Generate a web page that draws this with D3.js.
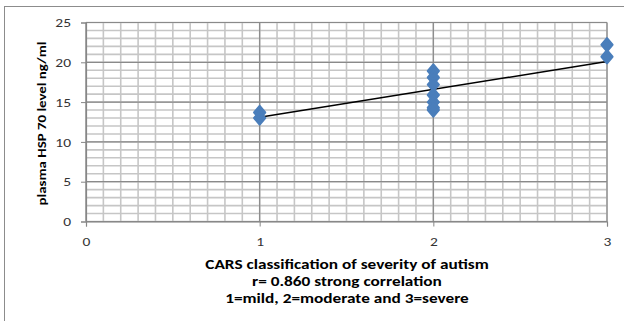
<!DOCTYPE html>
<html>
<head>
<meta charset="utf-8">
<script src="https://cdn.jsdelivr.net/npm/d3@7"></script>
<style>
  body { margin: 0; background: #fff; }
  svg { display: block; }
</style>
</head>
<body>
<svg id="chart" width="624" height="321"></svg>
<script>
// severity groups (x) and plasma HSP 70 values (y)
const severity = [1, 1, 2, 2, 2, 2, 2, 2, 2, 3, 3];
const hsp70 = [13.0, 13.7, 18.9, 18.1, 17.2, 15.9, 15.0, 14.3, 14.0, 22.2, 20.7];
// linear trend line
const trendX = [1, 3];
const trendY = [13.1, 20.1];
const xTicks = [0, 1, 2, 3];
const yTicks = [0, 5, 10, 15, 20, 25];
const xTitleLines = [
  'CARS classification of severity of autism',
  'r= 0.860  strong correlation',
  '1=mild, 2=moderate and 3=severe'
];
const yTitle = 'plasma HSP 70 level ng/ml';

const svg = d3.select('#chart');
const font = 'Carlito, "Open Sans", "Noto Sans", sans-serif';
// the source text renders wider than Carlito, stretch along baseline
const stretch = 1.19;

// outer frame
svg.append('rect')
  .attr('x', 4.5).attr('y', 6.5)
  .attr('width', 640).attr('height', 340)
  .attr('fill', 'none')
  .attr('stroke', '#8c8c8c')
  .attr('stroke-width', 1);

const plotLeft = 86, plotRight = 607, plotTop = 22.5, plotBottom = 221.5;

const x = d3.scaleLinear().domain([0, 3]).range([plotLeft, plotRight]);
const y = d3.scaleLinear().domain([0, 25]).range([plotBottom, plotTop]);

const grid = svg.append('g');

// minor grid
grid.selectAll('line.vminor')
  .data(d3.range(0, 31).map(i => i / 10))
  .enter().append('line')
  .attr('x1', d => x(d)).attr('x2', d => x(d))
  .attr('y1', y(0)).attr('y2', y(25))
  .attr('stroke', '#c6c6c6').attr('stroke-width', 1.6);

grid.selectAll('line.hminor')
  .data(d3.range(0, 26))
  .enter().append('line')
  .attr('x1', x(0)).attr('x2', x(3))
  .attr('y1', d => y(d)).attr('y2', d => y(d))
  .attr('stroke', '#c6c6c6').attr('stroke-width', 1.6);

// major grid
grid.selectAll('line.vmajor')
  .data(xTicks)
  .enter().append('line')
  .attr('x1', d => x(d)).attr('x2', d => x(d))
  .attr('y1', y(0)).attr('y2', y(25))
  .attr('stroke', '#8a8a8a').attr('stroke-width', 1.2);

grid.selectAll('line.hmajor')
  .data(yTicks)
  .enter().append('line')
  .attr('x1', x(0)).attr('x2', x(3))
  .attr('y1', d => y(d)).attr('y2', d => y(d))
  .attr('stroke', '#8a8a8a').attr('stroke-width', 1.2);

// axes
const xAxis = svg.append('g')
  .attr('transform', `translate(0,${plotBottom})`)
  .call(d3.axisBottom(x).tickValues(xTicks).tickSize(5).tickPadding(10).tickFormat(d3.format('d')));
const yAxis = svg.append('g')
  .attr('transform', `translate(${plotLeft},0)`)
  .call(d3.axisLeft(y).tickValues(yTicks).tickSize(5).tickPadding(10));

[xAxis, yAxis].forEach(a => {
  a.select('.domain').attr('stroke', '#868686').attr('stroke-width', 1.2);
  a.selectAll('.tick line').attr('stroke', '#868686');
  a.selectAll('.tick text')
    .attr('fill', '#333')
    .style('font-family', font)
    .style('font-size', '13px');
});

// trend line
const line = d3.line().x(d => x(d[0])).y(d => y(d[1]));
svg.append('path')
  .datum(trendX.map((d, i) => [d, trendY[i]]))
  .attr('d', line)
  .attr('fill', 'none')
  .attr('stroke', '#000')
  .attr('stroke-width', 1.5);

// diamond markers
const diamond = 'M0,-6.5L5.5,0L0,6.5L-5.5,0Z';
svg.append('g').selectAll('path')
  .data(severity.map((d, i) => [d, hsp70[i]]))
  .enter().append('path')
  .attr('transform', d => `translate(${x(d[0])},${y(d[1])})`)
  .attr('d', diamond)
  .attr('fill', '#4a7ebb')
  .attr('stroke', '#4a7ebb')
  .attr('stroke-width', 2.2)
  .attr('stroke-linejoin', 'round');

// titles
svg.append('g').selectAll('text')
  .data(xTitleLines)
  .enter().append('text')
  .attr('x', 347)
  .attr('y', (d, i) => 269 + i * 17)
  .attr('text-anchor', 'middle')
  .style('font-family', font)
  .style('font-weight', 'bold')
  .style('font-size', '14.5px')
  .attr('fill', '#000')
  .text(d => d);

svg.append('text')
  .attr('transform', `translate(46,123.5) rotate(-90)`)
  .attr('text-anchor', 'middle')
  .style('font-family', font)
  .style('font-weight', 'bold')
  .style('font-size', '12.5px')
  .attr('fill', '#000')
  .text(yTitle);

svg.selectAll('text').each(function () {
  const w = this.getComputedTextLength();
  d3.select(this)
    .attr('textLength', w * stretch)
    .attr('lengthAdjust', 'spacingAndGlyphs');
});
</script>
</body>
</html>
